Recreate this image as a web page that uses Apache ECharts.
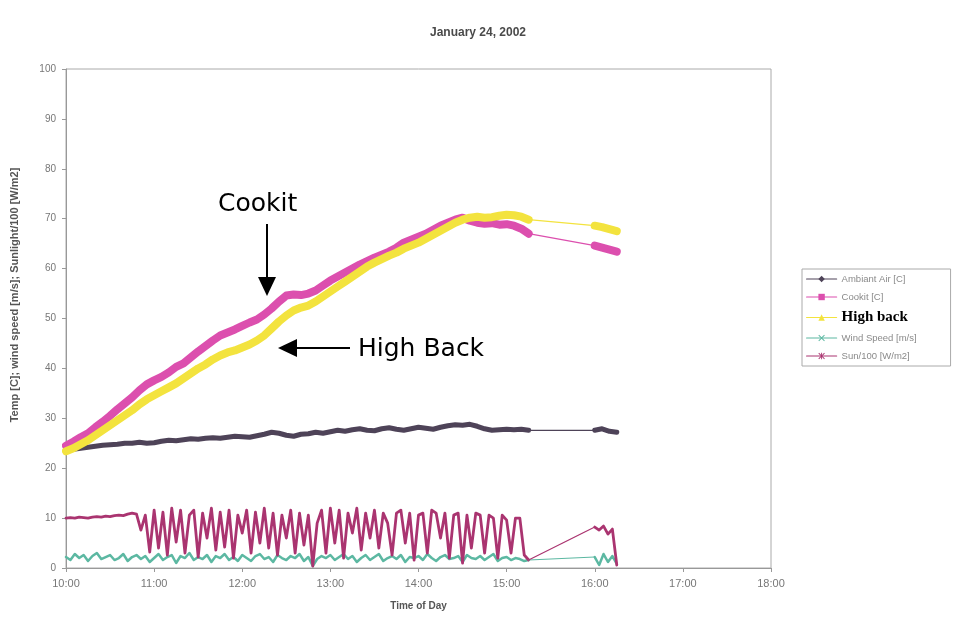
<!DOCTYPE html>
<html><head><meta charset="utf-8">
<script src="https://cdn.jsdelivr.net/npm/echarts@6/dist/echarts.min.js"></script>
<style>html,body{margin:0;padding:0;background:#fff}#c{width:956px;height:623px}</style>
</head><body><div id="c"></div>
<script>
// ---- tick labels ----
const hourTicks = ["10:00","11:00","12:00","13:00","14:00","15:00","16:00","17:00","18:00"];

// ---- temperature series (5-minute readings) ----
const timesSmoothEarly = [
"10:00","10:05","10:10","10:15","10:20","10:25","10:30","10:35","10:40","10:45","10:50","10:55",
"11:00","11:05","11:10","11:15","11:20","11:25","11:30","11:35","11:40","11:45","11:50","11:55",
"12:00","12:05","12:10","12:15","12:20","12:25","12:30","12:35","12:40","12:45","12:50","12:55",
"13:00","13:05","13:10","13:15","13:20","13:25","13:30","13:35","13:40","13:45","13:50","13:55",
"14:00","14:05","14:10","14:15","14:20","14:25","14:30","14:35","14:40","14:45","14:50","14:55",
"15:00","15:05","15:10","15:15"];
const timesSmoothLate = ["16:00","16:05","16:10","16:15"];

const ambientEarly = [
23.6,23.8,24.0,24.2,24.4,24.6,24.7,24.8,25.0,25.0,25.2,25.0,
25.1,25.4,25.6,25.5,25.7,25.9,25.8,26.0,26.1,26.0,26.2,26.4,
26.3,26.2,26.5,26.8,27.2,27.0,26.6,26.4,26.8,26.9,27.2,27.0,
27.3,27.6,27.4,27.7,27.9,27.6,27.5,27.9,28.1,27.8,27.6,27.9,
28.2,28.0,27.8,28.2,28.5,28.7,28.6,28.8,28.4,27.9,27.6,27.7,
27.8,27.7,27.8,27.6];
const ambientLate = [27.6,27.9,27.4,27.2];

const cookitEarly = [
24.5,25.3,26.2,27.0,28.2,29.3,30.5,31.8,33.0,34.2,35.6,36.8,
37.6,38.3,39.2,40.3,41.0,42.2,43.4,44.5,45.6,46.6,47.2,47.8,
48.5,49.2,49.8,50.8,52.0,53.4,54.6,54.8,54.7,55.0,55.6,56.6,
57.6,58.4,59.2,60.0,60.8,61.5,62.2,62.8,63.4,64.2,65.2,65.8,
66.4,67.0,67.8,68.6,69.2,69.8,70.2,69.6,69.2,69.0,69.1,68.8,
68.9,68.6,68.0,67.0];
const cookitLate = [64.6,64.2,63.8,63.4];

const highBackEarly = [
23.4,24.0,24.8,25.6,26.6,27.6,28.6,29.6,30.6,31.6,32.8,33.8,
34.6,35.4,36.2,37.0,38.0,39.0,40.0,40.8,41.8,42.6,43.2,43.6,
44.2,44.8,45.6,46.6,48.0,49.4,50.6,51.6,52.2,52.6,53.4,54.4,
55.4,56.4,57.4,58.4,59.4,60.4,61.2,61.9,62.6,63.2,64.0,64.6,
65.2,66.0,66.8,67.6,68.4,69.2,69.8,70.2,70.4,70.2,70.3,70.6,
70.8,70.7,70.4,69.8];
const highBackLate = [68.6,68.3,67.9,67.5];

// ---- wind and sun series (3-minute readings) ----
const timesFineEarly = [
"10:00","10:03","10:06","10:09","10:12","10:15","10:18","10:21","10:24","10:27",
"10:30","10:33","10:36","10:39","10:42","10:45","10:48","10:51","10:54","10:57",
"11:00","11:03","11:06","11:09","11:12","11:15","11:18","11:21","11:24","11:27",
"11:30","11:33","11:36","11:39","11:42","11:45","11:48","11:51","11:54","11:57",
"12:00","12:03","12:06","12:09","12:12","12:15","12:18","12:21","12:24","12:27",
"12:30","12:33","12:36","12:39","12:42","12:45","12:48","12:51","12:54","12:57",
"13:00","13:03","13:06","13:09","13:12","13:15","13:18","13:21","13:24","13:27",
"13:30","13:33","13:36","13:39","13:42","13:45","13:48","13:51","13:54","13:57",
"14:00","14:03","14:06","14:09","14:12","14:15","14:18","14:21","14:24","14:27",
"14:30","14:33","14:36","14:39","14:42","14:45","14:48","14:51","14:54","14:57",
"15:00","15:03","15:06","15:09","15:12","15:15"];
const timesFineLate = ["16:00","16:03","16:06","16:09","16:12","16:15"];

const sunEarly = [
10.0,10.1,10.0,10.2,10.1,10.0,10.2,10.3,10.2,10.4,
10.3,10.5,10.6,10.5,10.8,11.0,10.8,7.6,10.6,3.2,
11.6,4.0,11.2,2.6,12.0,5.2,11.6,3.0,10.6,11.6,
2.2,11.0,6.0,12.0,3.6,11.2,4.2,11.6,2.0,10.6,
7.0,11.6,3.0,11.2,5.0,12.0,4.0,11.0,2.6,10.6,
6.0,11.6,3.0,11.0,4.6,10.6,0.4,9.0,11.6,3.0,
12.0,5.0,11.6,2.0,11.0,7.0,12.0,3.6,11.0,6.0,
11.6,4.0,11.0,9.0,2.6,11.0,11.6,5.0,11.0,1.6,
10.6,11.0,3.0,11.6,11.0,6.0,11.0,2.0,10.6,11.0,
1.0,10.6,4.0,11.0,10.6,3.0,10.6,10.0,2.0,10.6,
9.6,3.0,10.0,10.0,2.6,1.6];
const sunLate = [8.2,7.6,8.4,6.8,7.8,0.6];

const windEarly = [
2.2,1.6,2.8,2.0,2.6,1.4,2.4,3.0,1.8,2.2,
2.6,1.6,2.0,2.8,1.4,2.2,2.6,1.8,2.4,1.2,
2.0,2.8,1.6,2.2,2.6,1.0,2.4,2.0,3.0,1.6,
2.2,1.8,2.6,1.2,2.4,2.0,2.8,1.6,2.2,1.4,
2.6,2.0,1.4,2.4,2.8,1.8,2.2,1.2,2.6,2.0,
1.6,2.4,2.0,2.8,1.4,2.2,0.4,1.8,2.4,2.0,
2.6,1.6,2.2,2.8,1.8,2.4,1.2,2.0,2.6,1.6,
2.2,2.8,1.4,2.0,2.4,1.8,2.6,1.2,2.2,2.0,
2.4,1.6,2.8,2.0,1.4,2.2,2.6,1.8,2.0,2.4,
1.2,2.6,2.0,1.8,2.4,1.6,2.2,2.8,1.4,2.0,
2.2,1.6,2.0,1.8,1.4,1.6];
const windLate = [2.2,0.6,2.8,1.2,2.4,0.8];

const seriesNames = ["Ambiant Air [C]","Cookit [C]","High back","Wind Speed [m/s]","Sun/100 [W/m2]"];

// ---- build ----
function toHours(t){const p=t.split(':').map(Number);return p[0]+p[1]/60;}
function pairs(times, vals){return times.map((t,i)=>[toHours(t), vals[i]]);}
function bridge(a,b){return [a[a.length-1], b[0]];}

const cfg = [
  {name:seriesNames[0], color:'#4e4358', w:5, sym:'diamond', te:timesSmoothEarly, tl:timesSmoothLate, e:ambientEarly, l:ambientLate},
  {name:seriesNames[1], color:'#dc4fae', w:8, sym:'rect', te:timesSmoothEarly, tl:timesSmoothLate, e:cookitEarly, l:cookitLate},
  {name:seriesNames[2], color:'#f3e33e', w:8, sym:'triangle', te:timesSmoothEarly, tl:timesSmoothLate, e:highBackEarly, l:highBackLate},
  {name:seriesNames[3], color:'#5cb8a2', w:2.5, sym:'path://M0,1L1,0L5,4L9,0L10,1L6,5L10,9L9,10L5,6L1,10L0,9L4,5Z', te:timesFineEarly, tl:timesFineLate, e:windEarly, l:windLate},
  {name:seriesNames[4], color:'#aa3470', w:2.8, sym:'path://M0,1L1,0L4.3,3.3L4.3,0L5.7,0L5.7,3.3L9,0L10,1L6,5L10,9L9,10L5.7,6.7L5.7,10L4.3,10L4.3,6.7L1,10L0,9L4,5Z', te:timesFineEarly, tl:timesFineLate, e:sunEarly, l:sunLate}
];

const series = [];
cfg.forEach(c=>{
  series.push({name:c.name,type:'line',data:pairs(c.te,c.e),symbol:c.sym,showSymbol:false,
    lineStyle:{color:c.color,width:c.w,join:'round',cap:'round'},itemStyle:{color:c.color},animation:false});
});
cfg.forEach(c=>{
  series.push({name:c.name,type:'line',data:pairs(c.tl,c.l),symbol:c.sym,showSymbol:false,
    lineStyle:{color:c.color,width:c.w,join:'round',cap:'round'},itemStyle:{color:c.color},animation:false});
});
cfg.forEach(c=>{
  series.push({name:c.name,type:'line',data:bridge(pairs(c.te,c.e),pairs(c.tl,c.l)),symbol:c.sym,showSymbol:false,
    lineStyle:{color:c.color,width:1.2},itemStyle:{color:c.color},animation:false});
});

const chart = echarts.init(document.getElementById('c'));
chart.setOption({
  backgroundColor:'#fff',
  animation:false,
  title:{text:'January 24, 2002',left:'center',top:22,
    textStyle:{fontSize:12,fontWeight:'bold',color:'#4a4a4a',fontFamily:'Liberation Sans'}},
  grid:{left:66,top:69,right:185,bottom:55,show:true,borderColor:'#aaa',borderWidth:1},
  xAxis:{type:'value',min:10,max:18,interval:1,
    name:'Time of Day',nameLocation:'middle',nameGap:33,
    nameTextStyle:{fontSize:10,fontWeight:'bold',color:'#555',fontFamily:'Liberation Sans'},
    axisLine:{lineStyle:{color:'#999'}},axisTick:{show:true,length:4,lineStyle:{color:'#999'}},
    splitLine:{show:false},
    axisLabel:{fontSize:11,color:'#777',margin:10,fontFamily:'Liberation Sans',
      formatter:v=>hourTicks[Math.round(v-10)]}},
  yAxis:{type:'value',min:0,max:100,interval:10,
    axisLine:{show:true,lineStyle:{color:'#999'}},axisTick:{show:true,length:4,lineStyle:{color:'#999'}},
    splitLine:{show:false},
    axisLabel:{fontSize:10,color:'#777',margin:10,fontFamily:'Liberation Sans'}},
  legend:{data:seriesNames,orient:'vertical',left:802,top:269,
    itemWidth:30,itemHeight:8,itemGap:8,
    padding:[5,34,5,4],borderColor:'#aaa',borderWidth:1,
    lineStyle:{width:1.2},
    formatter:n=> n==='High back' ? '{hb|'+n+'}' : '{n|'+n+'}',
    textStyle:{rich:{
      n:{fontSize:9.5,color:'#8a8a8a',fontFamily:'Liberation Sans',lineHeight:12},
      hb:{fontSize:15,fontWeight:'bold',color:'#000',fontFamily:'Liberation Serif',lineHeight:12}
    }}},
  series:series,
  graphic:[
    {type:'text',x:15,y:295,rotation:Math.PI/2,
      style:{text:'Temp [C]; wind speed [m/s]; Sunlight/100 [W/m2]',fill:'#555',
        font:'bold 11px "Liberation Sans"',textAlign:'center',textVerticalAlign:'middle'}},
    {type:'text',x:218,y:204,style:{text:'Cookit',fill:'#000',font:'25px "DejaVu Sans"',textAlign:'left',textVerticalAlign:'middle'}},
    {type:'line',shape:{x1:267,y1:224,x2:267,y2:280},style:{stroke:'#000',lineWidth:2}},
    {type:'polygon',shape:{points:[[258,277],[276,277],[267,296]]},style:{fill:'#000'}},
    {type:'text',x:358,y:349,style:{text:'High Back',fill:'#000',font:'25px "DejaVu Sans"',textAlign:'left',textVerticalAlign:'middle'}},
    {type:'line',shape:{x1:350,y1:348,x2:294,y2:348},style:{stroke:'#000',lineWidth:2}},
    {type:'polygon',shape:{points:[[297,339],[297,357],[278,348]]},style:{fill:'#000'}}
  ]
});
</script>
</body></html>
